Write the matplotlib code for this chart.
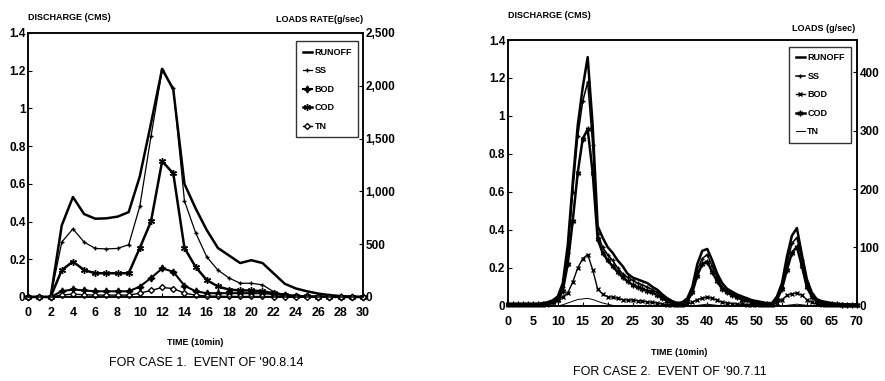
import numpy as np
import matplotlib.pyplot as plt
from matplotlib.ticker import FuncFormatter, MultipleLocator

plt.rcParams['font.family'] = ['Liberation Sans', 'DejaVu Sans']

# ---- case 1 : event of '90.8.14  (time step = 10 min) ----
t1 = list(range(0, 31))
runoff1 = [0, 0, 0, 0.38, 0.53, 0.44, 0.415, 0.417, 0.426, 0.45, 0.64, 0.92, 1.21, 1.10, 0.60,
           0.47, 0.355, 0.26, 0.22, 0.18, 0.195, 0.18, 0.125, 0.07, 0.045, 0.03, 0.018, 0.01,
           0.005, 0.002, 0]
ss1 = [0, 0, 0, 520, 645, 520, 460, 455, 460, 495, 860, 1520, 2145, 1980, 910, 610, 380, 255,
       180, 130, 130, 115, 50, 20, 10, 5, 3, 2, 0, 0, 0]
bod1 = [0, 0, 0, 54, 72, 62, 54, 54, 54, 54, 98, 180, 270, 240, 107, 54, 36, 36, 36, 36, 36,
        36, 27, 18, 9, 5, 3, 2, 0, 0, 0]
cod1 = [0, 0, 0, 255, 335, 255, 225, 225, 225, 225, 465, 715, 1285, 1170, 465, 285, 160, 100,
        70, 62, 62, 54, 36, 18, 9, 5, 3, 2, 0, 0, 0]
tn1 = [0, 0, 0, 18, 27, 21, 18, 18, 18, 18, 36, 62, 90, 80, 36, 18, 9, 7, 5, 5, 5, 5, 4, 3, 2,
       1, 1, 0, 0, 0, 0]

# ---- case 2 : event of '90.7.11 ----
t2 = list(range(0, 71))
runoff2 = [0.01, 0.01, 0.01, 0.01, 0.01, 0.01, 0.01, 0.015, 0.02,
           0.03, 0.05, 0.12, 0.32, 0.65, 0.95, 1.15, 1.31, 0.95, 0.42, 0.36, 0.31, 0.28, 0.24,
           0.21, 0.17, 0.15, 0.14, 0.13, 0.12, 0.10, 0.085, 0.06, 0.04, 0.025, 0.015, 0.02,
           0.04, 0.10, 0.22, 0.29, 0.30, 0.24, 0.17, 0.12, 0.09, 0.075, 0.06, 0.05, 0.04, 0.03,
           0.025, 0.02, 0.015, 0.015, 0.05, 0.12, 0.26, 0.37, 0.41, 0.27, 0.14, 0.07, 0.035,
           0.025, 0.02, 0.015, 0.01, 0.01, 0.008, 0.006, 0.005]
ss2 = [3, 3, 3, 3, 3, 3, 3, 3, 3,
       6, 13, 32, 91, 195, 290, 350, 383, 276, 123, 100, 88, 78, 65, 55, 49, 44, 39, 36, 32,
       28, 23, 16, 10, 6, 4, 5, 10, 26, 62, 81, 88, 68, 49, 32, 26, 21, 16, 13, 11, 8, 6, 5,
       4, 4, 13, 32, 72, 107, 117, 78, 39, 20, 10, 6, 5, 4, 3, 3, 2, 2, 2]
cod2 = [3, 3, 3, 3, 3, 3, 3, 3, 4,
        6, 10, 26, 72, 146, 228, 286, 302, 228, 114, 91, 78, 68, 58, 49, 42, 36, 32, 29, 26,
        23, 18, 13, 8, 5, 3, 4, 8, 23, 52, 72, 76, 58, 42, 29, 23, 18, 15, 11, 10, 6, 5, 4,
        3, 3, 11, 29, 62, 91, 101, 68, 32, 16, 8, 5, 4, 3, 3, 2, 2, 2, 2]
bod2 = [2, 2, 2, 2, 2, 2, 2, 2, 3,
        6, 11, 16, 22, 41, 65, 81, 88, 62, 29, 20, 16, 15, 13, 11, 10, 10, 9, 8, 7, 6, 5, 3,
        2, 2, 2, 2, 3, 6, 11, 13, 15, 13, 10, 6, 5, 4, 3, 3, 2, 2, 2, 2, 2, 2, 5, 11, 18, 21,
        22, 18, 11, 6, 3, 2, 2, 2, 2, 2, 1, 1, 1]
tn2 = [0, 0, 0, 0, 0, 0, 0, 0, 0, 0, 0,
       2, 5, 8, 11, 12, 13, 11, 8, 5, 3, 1, 0, 0, 0, 0, 0, 0, 0, 0, 0, 0, 0, 0, 0, 0, 0, 0,
       1, 2, 3, 2, 1, 0, 0, 0, 0, 0, 0, 0, 0, 0, 0, 0, 0, 0,
       1, 2, 3, 2, 1, 0, 0, 0, 0, 0, 0, 0, 0, 0, 0]

fig = plt.figure(figsize=(8.85, 3.81), dpi=100)
hfont = dict(fontsize=6.5, fontweight='bold')


def style(ax, ax2, xmax, xstep, ymax2, fmt2):
    ax.set_xlim(0, xmax)
    ax.set_ylim(0, 1.4)
    ax2.set_ylim(0, ymax2)
    ax.xaxis.set_major_locator(MultipleLocator(xstep))
    ax.yaxis.set_major_locator(MultipleLocator(0.2))
    ax.yaxis.set_major_formatter(FuncFormatter(lambda v, p: '%g' % round(v, 1)))
    ax2.yaxis.set_major_formatter(FuncFormatter(fmt2))
    for a in (ax, ax2):
        a.tick_params(direction='in', length=3, width=0.8, labelsize=8.5, pad=2)
        for s in a.spines.values():
            s.set_linewidth(1.1)
    ax.tick_params(axis='x', pad=7, labelsize=9)
    for lab in ax.get_xticklabels() + ax.get_yticklabels() + ax2.get_yticklabels():
        lab.set_fontweight('bold')


# ---- left panel ----
ax = fig.add_axes([0.032, 0.2205, 0.378, 0.693])
ax2 = ax.twinx()
ax.plot(t1, runoff1, color='k', lw=1.8, label='RUNOFF', zorder=3)
ax2.plot(t1, ss1, color='k', lw=0.9, marker='+', ms=3, label='SS', clip_on=False)
ax2.plot(t1, bod1, color='k', lw=1.5, marker=(4, 1, 0), ms=5, label='BOD', clip_on=False)
ax2.plot(t1, cod1, color='k', lw=1.8, marker=(6, 2, 0), ms=5, label='COD', clip_on=False)
ax2.plot(t1, tn1, color='k', lw=1.0, marker='D', ms=3, mfc='white', label='TN', clip_on=False)
style(ax, ax2, 30, 2, 2500, lambda v, p: '{:,.0f}'.format(v))
h1, l1 = ax.get_legend_handles_labels()
h2, l2 = ax2.get_legend_handles_labels()
leg = ax2.legend(h1 + h2, l1 + l2, loc='upper right', bbox_to_anchor=(1.0, 0.985),
                 fancybox=False, edgecolor='k', handlelength=1.0, handletextpad=0.3,
                 labelspacing=1.05, borderpad=0.7, prop=dict(size=6.5, weight='bold'))
leg.get_frame().set_linewidth(1.0)
fig.text(0.032, 0.953, 'DISCHARGE (CMS)', ha='left', va='center', **hfont)
fig.text(0.41, 0.948, 'LOADS RATE(g/sec)', ha='right', va='center', **hfont)
fig.text(0.22, 0.102, 'TIME (10min)', ha='center', va='center', **hfont)
fig.text(0.233, 0.047, "FOR CASE 1.  EVENT OF '90.8.14", ha='center', va='center', fontsize=9)

# ---- right panel ----
bx = fig.add_axes([0.574, 0.197, 0.394, 0.698])
bx2 = bx.twinx()
bx.plot(t2, runoff2, color='k', lw=1.8, label='RUNOFF', zorder=3)
bx2.plot(t2, ss2, color='k', lw=1.1, marker='+', ms=3, label='SS', clip_on=False)
bx2.plot(t2, bod2, color='k', lw=1.0, marker='x', ms=3.5, label='BOD', clip_on=False)
bx2.plot(t2, cod2, color='k', lw=1.8, marker=(6, 2, 0), ms=4, label='COD', clip_on=False)
bx2.plot(t2, tn2, color='k', lw=0.7, label='TN')
style(bx, bx2, 70, 5, 455, lambda v, p: '%d' % v)
bx2.yaxis.set_major_locator(MultipleLocator(100))
for lab in bx2.get_yticklabels():
    lab.set_fontweight('bold')
h1, l1 = bx.get_legend_handles_labels()
h2, l2 = bx2.get_legend_handles_labels()
leg = bx2.legend(h1 + h2, l1 + l2, loc='upper right', bbox_to_anchor=(0.997, 0.99),
                 fancybox=False, edgecolor='k', handlelength=1.0, handletextpad=0.3,
                 labelspacing=1.05, borderpad=0.7, prop=dict(size=6.5, weight='bold'))
leg.get_frame().set_linewidth(1.0)
fig.text(0.574, 0.96, 'DISCHARGE (CMS)', ha='left', va='center', **hfont)
fig.text(0.966, 0.926, 'LOADS (g/sec)', ha='right', va='center', **hfont)
fig.text(0.768, 0.076, 'TIME (10min)', ha='center', va='center', **hfont)
fig.text(0.757, 0.024, "FOR CASE 2.  EVENT OF '90.7.11", ha='center', va='center', fontsize=9)

fig.savefig('out.png', dpi=100)
